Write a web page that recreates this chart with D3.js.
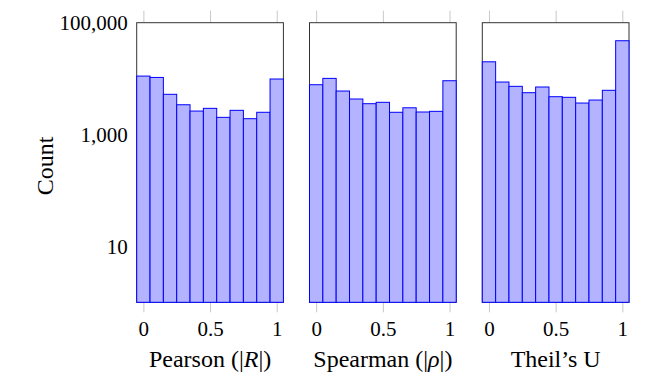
<!DOCTYPE html>
<html lang="en">

<head>
    <meta charset="UTF-8">
    <title>Correlation histograms</title>
    <script src="https://d3js.org/d3.v7.min.js"></script>
    <style>
        * {
            margin: 0;
            padding: 0;
        }

        body {
            background: #fff;
        }

        text {
            font-family: "Liberation Serif", "DejaVu Serif", serif;
            fill: #000;
        }
    </style>
</head>

<body>
    <svg width="645" height="385"></svg>
    <script>
        // bin centres (width 0.1)
        var binCenters = [0, 0.1, 0.2, 0.3, 0.4, 0.5, 0.6, 0.7, 0.8, 0.9, 1.0];
        var pearson = [11100, 10500, 5240, 3410, 2630, 2940, 2030, 2710, 1920, 2500, 9840];
        var spearman = [7780, 10100, 6000, 4320, 3560, 3770, 2500, 3010, 2530, 2600, 9170];
        var theil = [20000, 8690, 7280, 5600, 7080, 4750, 4630, 3660, 4140, 6180, 47600];
        var xTicks = [0, 0.5, 1];
        var yTicks = [10, 1000, 100000];

        var panels = [
            { values: pearson, label: ["Pearson (|", "R", "|)"] },
            { values: spearman, label: ["Spearman (|", "ρ", "|)"] },
            { values: theil, label: ["Theil\u2019s U", "", ""] }
        ];

        var plotTop = 22.7,
            plotBottom = 302.3,
            panelW = 146.7,
            firstLeft = 136.7,
            step = 172.8;

        var svg = d3.select('svg');

        var y = d3.scaleLog().domain([1, 100000]).range([plotBottom, plotTop]);

        panels.forEach(function (p, i) {
            var left = firstLeft + i * step;
            var x = d3.scaleLinear().domain([-0.05, 1.05]).range([left, left + panelW]);
            var g = svg.append('g');

            // tick marks outside the box (top and bottom)
            var topAxis = g.append('g').attr('transform', 'translate(0,' + plotTop + ')')
                .call(d3.axisTop(x).tickValues(xTicks).tickSize(12).tickFormat(''));
            var botAxis = g.append('g').attr('transform', 'translate(0,' + plotBottom + ')')
                .call(d3.axisBottom(x).tickValues(xTicks).tickSize(10).tickPadding(9)
                    .tickFormat(function (d) { return d === 0.5 ? '0.5' : d3.format('d')(d); }));
            [topAxis, botAxis].forEach(function (a) {
                a.select('.domain').remove();
                a.selectAll('line').attr('stroke', '#c8c8c8');
                a.selectAll('text').style('font-size', '21px').attr('fill', '#000')
                    .style('font-family', '"Liberation Serif", serif');
            });

            // frame
            g.append('rect')
                .attr('x', left).attr('y', plotTop)
                .attr('width', panelW).attr('height', plotBottom - plotTop)
                .attr('fill', 'none').attr('stroke', '#333').attr('stroke-width', 1);

            // bars
            var bw = x(0.1) - x(0);
            g.selectAll('rect.bar')
                .data(binCenters)
                .enter()
                .append('rect')
                .attr('class', 'bar')
                .attr('x', function (d) { return x(d) - bw / 2; })
                .attr('y', function (d, j) { return y(p.values[j]); })
                .attr('width', bw)
                .attr('height', function (d, j) { return plotBottom - y(p.values[j]); })
                .attr('fill', '#b3b3ff')
                .attr('stroke', '#0000ff')
                .attr('stroke-width', 1);

            // axis label
            var t = g.append('text')
                .attr('x', left + panelW / 2)
                .attr('y', 367)
                .attr('text-anchor', 'middle')
                .style('font-size', '24px');
            t.append('tspan').text(p.label[0]);
            if (p.label[1]) t.append('tspan').style('font-style', 'italic').text(p.label[1]);
            if (p.label[2]) t.append('tspan').text(p.label[2]);

            if (i === 0) {
                var yAxis = g.append('g').attr('transform', 'translate(' + left + ',0)')
                    .call(d3.axisLeft(y).tickValues(yTicks).tickSize(0).tickPadding(9)
                        .tickFormat(d3.format(',')));
                yAxis.select('.domain').remove();
                yAxis.selectAll('text').style('font-size', '21px').attr('fill', '#000')
                    .style('font-family', '"Liberation Serif", serif');
            }
        });

        // y label
        svg.append('text')
            .attr('transform', 'translate(53,166) rotate(-90)')
            .attr('text-anchor', 'middle')
            .style('font-size', '24px')
            .text('Count');
    </script>
</body>

</html>
